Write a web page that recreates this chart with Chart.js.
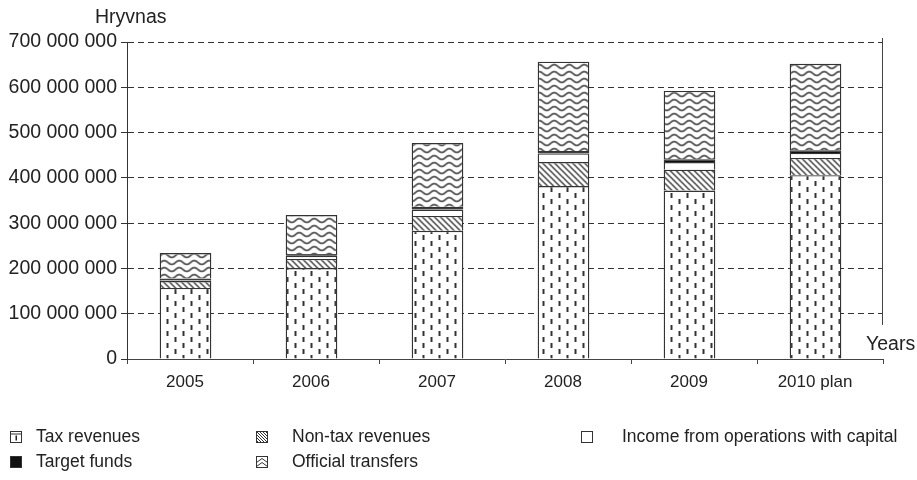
<!DOCTYPE html>
<html><head><meta charset="utf-8">
<script src="https://cdn.jsdelivr.net/npm/chart.js@4.4.1/dist/chart.umd.min.js"></script>
<style>html,body{margin:0;padding:0;background:#fff}#wrap{width:917px;height:480px;position:relative}</style>
</head><body><div id="wrap"><canvas id="c" width="917" height="480"></canvas></div>
<script>
const categories = ['2005', '2006', '2007', '2008', '2009', '2010 plan'];
const taxRevenues = [157000000, 201000000, 283000000, 382000000, 372000000, 406000000];
const nonTaxRevenues = [15000000, 20000000, 33000000, 53000000, 46000000, 38000000];
const incomeFromCapital = [2000000, 7000000, 14000000, 19000000, 17000000, 11000000];
const targetFunds = [4000000, 4000000, 6000000, 5500000, 6000000, 6000000];
const officialTransfers = [56000000, 86000000, 141000000, 197000000, 151000000, 191000000];
const yTicks = [0, 100000000, 200000000, 300000000, 400000000, 500000000, 600000000, 700000000];
const legendLabels = ['Tax revenues', 'Non-tax revenues', 'Income from operations with capital', 'Target funds', 'Official transfers'];

const FONT = "'Liberation Sans', Arial, sans-serif";

function mkPattern(w, h, draw) {
  const c = document.createElement('canvas');
  c.width = w; c.height = h;
  const g = c.getContext('2d');
  g.fillStyle = '#fff'; g.fillRect(0, 0, w, h);
  draw(g);
  return document.getElementById('c').getContext('2d').createPattern(c, 'repeat');
}
const taxPat = mkPattern(16, 12, g => {
  g.fillStyle = '#333';
  g.fillRect(3, 1, 2, 5);
  g.fillRect(11, 7, 2, 5);
});
const hatchPat = mkPattern(6, 6, g => {
  g.strokeStyle = '#333'; g.lineWidth = 1.3;
  g.beginPath();
  g.moveTo(-1, -1); g.lineTo(7, 7);
  g.moveTo(-7, -1); g.lineTo(1, 7);
  g.moveTo(5, -1); g.lineTo(13, 7);
  g.stroke();
});
const wavePat = mkPattern(15, 7, g => {
  g.strokeStyle = '#555'; g.lineWidth = 1.8;
  g.beginPath();
  for (let x = -1; x <= 16; x += 0.5) {
    const y = 3.5 - 1.9 * Math.sin(2 * Math.PI * x / 15);
    if (x === -1) g.moveTo(x, y); else g.lineTo(x, y);
  }
  g.stroke();
});

function fmt(v) {
  return String(Math.round(v)).replace(/\B(?=(\d{3})+(?!\d))/g, ' ');
}

const ds = (label, data, bg) => ({
  label, data, backgroundColor: bg, borderColor: '#333', borderWidth: 1.4,
  borderSkipped: 'start', barPercentage: 0.41, categoryPercentage: 1
});

const shiftBars = {
  id: 'shiftBars',
  beforeDatasetsDraw(chart) { chart.ctx.save(); chart.ctx.translate(-4.5, 0); },
  afterDatasetsDraw(chart) { chart.ctx.restore(); }
};

const extras = {
  id: 'extras',
  afterDraw(chart) {
    const ctx = chart.ctx;
    const a = chart.chartArea;
    ctx.save();
    ctx.strokeStyle = '#444'; ctx.lineWidth = 1;
    ctx.beginPath(); ctx.moveTo(a.right - 0.5, 38); ctx.lineTo(a.right - 0.5, 325); ctx.stroke();
    ctx.fillStyle = '#222';
    ctx.font = '19.5px ' + FONT;
    ctx.textBaseline = 'middle';
    ctx.textAlign = 'left';
    ctx.fillText('Hryvnas', 95, 18);
    ctx.fillText('Years', 866, 345);
    const items = [
      {x: 10, tx: 36, y: 437, pat: 'tax'},
      {x: 256, tx: 292, y: 437, pat: 'hatch'},
      {x: 581, tx: 622, y: 437, pat: 'none'},
      {x: 10, tx: 36, y: 462, pat: 'black'},
      {x: 256, tx: 292, y: 462, pat: 'wave'}
    ];
    items.forEach((it, i) => {
      const s = 11, x = it.x + 0.5, y = it.y - 5.5;
      ctx.fillStyle = '#fff';
      ctx.fillRect(x, y, s, s);
      ctx.strokeStyle = '#333'; ctx.lineWidth = 1;
      if (it.pat === 'black') { ctx.fillStyle = '#111'; ctx.fillRect(x - 0.5, y - 0.5, s + 1, s + 1); }
      if (it.pat === 'tax') {
        ctx.fillStyle = '#222';
        ctx.fillRect(x + 5, y + 4, 1.5, 5);
        ctx.beginPath(); ctx.moveTo(x, y + 2.5); ctx.lineTo(x + s, y + 2.5); ctx.stroke();
      }
      if (it.pat === 'hatch') {
        ctx.save(); ctx.beginPath(); ctx.rect(x, y, s, s); ctx.clip();
        ctx.beginPath();
        for (let k = -12; k < 12; k += 3) { ctx.moveTo(x + k, y); ctx.lineTo(x + k + s, y + s); }
        ctx.stroke(); ctx.restore();
      }
      if (it.pat === 'wave') {
        ctx.beginPath();
        ctx.moveTo(x, y + 6); ctx.lineTo(x + s / 2, y + 2); ctx.lineTo(x + s, y + 6);
        ctx.moveTo(x, y + 10); ctx.lineTo(x + s / 2, y + 6); ctx.lineTo(x + s, y + 10);
        ctx.stroke();
      }
      ctx.strokeRect(x, y, s, s);
      ctx.fillStyle = '#222';
      ctx.font = '17.5px ' + FONT;
      ctx.textBaseline = 'middle';
      ctx.fillText(legendLabels[i], it.tx, it.y);
    });
    ctx.restore();
  }
};

new Chart(document.getElementById('c'), {
  type: 'bar',
  data: {
    labels: categories,
    datasets: [
      ds(legendLabels[0], taxRevenues, taxPat),
      ds(legendLabels[1], nonTaxRevenues, hatchPat),
      ds(legendLabels[2], incomeFromCapital, '#fff'),
      ds(legendLabels[3], targetFunds, '#111'),
      ds(legendLabels[4], officialTransfers, wavePat)
    ]
  },
  options: {
    responsive: false, animation: false, devicePixelRatio: 1,
    layout: {padding: {top: 42, right: 34, left: 0, bottom: 0}},
    plugins: {legend: {display: false}, tooltip: {enabled: false}},
    scales: {
      x: {
        stacked: true,
        afterFit(s) { s.height = 121; },
        grid: {display: true, drawOnChartArea: false, drawTicks: true, tickLength: 5, color: '#444', offset: true},
        border: {display: true, color: '#444', width: 1},
        ticks: {color: '#222', font: {family: FONT, size: 17}, padding: 8, maxRotation: 0, labelOffset: -5}
      },
      y: {
        stacked: true, min: 0, max: 700000000,
        afterFit(s) { s.width = 127; },
        afterBuildTicks(s) { s.ticks = yTicks.map(v => ({value: v})); },
        grid: {color: '#333', lineWidth: 1, tickLength: 6, tickBorderDash: [], tickColor: '#333'},
        border: {display: true, color: '#333', width: 1, dash: [6, 4]},
        ticks: {color: '#222', font: {family: FONT, size: 19.5}, padding: 4, callback: v => fmt(v)}
      }
    }
  },
  plugins: [shiftBars, extras]
});
</script>
</body></html>
